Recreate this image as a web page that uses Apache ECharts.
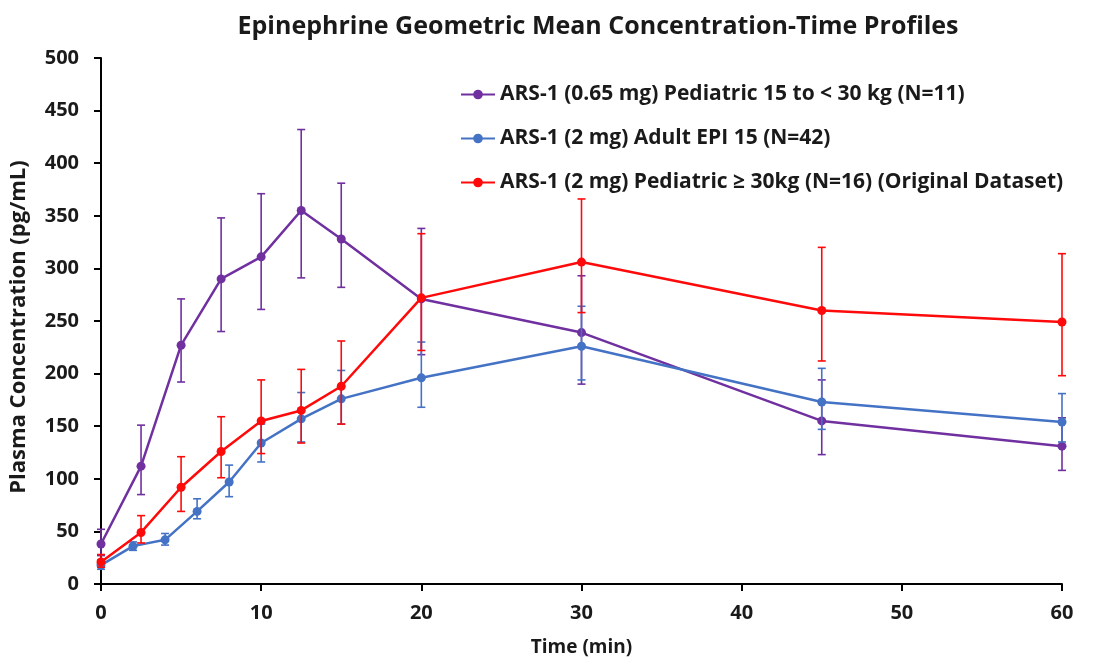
<!DOCTYPE html>
<html><head><meta charset="utf-8">
<script src="https://cdn.jsdelivr.net/npm/echarts@6/dist/echarts.min.js"></script>
<style>html,body{margin:0;padding:0;background:#fff}#c{width:1114px;height:663px}</style>
</head><body><div id="c"></div>
<script>
const title = 'Epinephrine Geometric Mean Concentration-Time Profiles';
const seriesNames = ['ARS-1 (0.65 mg) Pediatric 15 to < 30 kg (N=11)', 'ARS-1 (2 mg) Adult EPI 15 (N=42)', 'ARS-1 (2 mg) Pediatric \u2265 30kg (N=16) (Original Dataset)'];
const colors = ['#7030A0', '#4472C4', '#FF0A0A'];

const purpleTime = [0, 2.5, 5, 7.5, 10, 12.5, 15, 20, 30, 45, 60];
const purpleMean = [38, 112, 227, 290, 311, 355, 328, 271, 239, 155, 131];
const purpleLow  = [27, 85, 192, 240, 261, 291, 282, 218, 190, 123, 108];
const purpleHigh = [52, 151, 271, 348, 371, 432, 381, 338, 293, 194, 158];

const blueTime = [0, 2, 4, 6, 8, 10, 12.5, 15, 20, 30, 45, 60];
const blueMean = [18, 36, 42, 69, 97, 134, 157, 176, 196, 226, 173, 154];
const blueLow  = [14, 32, 37, 62, 83, 116, 135, 152, 168, 194, 147, 135];
const blueHigh = [23, 40, 48, 81, 113, 152, 182, 203, 230, 264, 205, 181];

const redTime = [0, 2.5, 5, 7.5, 10, 12.5, 15, 20, 30, 45, 60];
const redMean = [21, 49, 92, 126, 155, 165, 188, 272, 306, 260, 249];
const redLow  = [16, 39, 69, 101, 124, 134, 152, 222, 258, 212, 198];
const redHigh = [28, 65, 121, 159, 194, 204, 231, 333, 366, 320, 314];

const xTicks = [0, 10, 20, 30, 40, 50, 60];
const yTicks = [0, 50, 100, 150, 200, 250, 300, 350, 400, 450, 500];

const groups = [
  [purpleTime, purpleMean, purpleLow, purpleHigh],
  [blueTime, blueMean, blueLow, blueHigh],
  [redTime, redMean, redLow, redHigh]
];

const font = '"Open Sans", "Liberation Sans", sans-serif';
const series = [];
groups.forEach((g, i) => {
  const [t, m, lo, hi] = g;
  series.push({
    type: 'custom', name: 'err' + i, z: 2 + i * 2,
    data: t.map((x, k) => [x, lo[k], hi[k]]),
    renderItem: function (params, api) {
      const p1 = api.coord([api.value(0), api.value(1)]);
      const p2 = api.coord([api.value(0), api.value(2)]);
      const w = 4;
      const st = { stroke: colors[i], lineWidth: 1.6 };
      return { type: 'group', children: [
        { type: 'line', shape: { x1: p1[0], y1: p1[1], x2: p2[0], y2: p2[1] }, style: st },
        { type: 'line', shape: { x1: p1[0] - w, y1: p1[1], x2: p1[0] + w, y2: p1[1] }, style: st },
        { type: 'line', shape: { x1: p2[0] - w, y1: p2[1], x2: p2[0] + w, y2: p2[1] }, style: st }
      ]};
    },
    silent: true
  });
  series.push({
    type: 'line', name: seriesNames[i], z: 3 + i * 2,
    data: t.map((x, k) => [x, m[k]]),
    symbol: 'circle', symbolSize: 9,
    lineStyle: { color: colors[i], width: 2.5 },
    itemStyle: { color: colors[i] },
    animation: false
  });
});

const chart = echarts.init(document.getElementById('c'), null, { renderer: 'canvas' });
chart.setOption({
  animation: false,
  backgroundColor: '#fff',
  color: colors,
  title: {
    text: title, left: 593, top: 9, textAlign: 'center',
    textStyle: { fontFamily: font, fontWeight: 'bold', fontSize: 25, color: '#1a1a1a' }
  },
  legend: {
    data: seriesNames, orient: 'vertical', left: 455, top: 79,
    itemGap: 23, itemWidth: 34, itemHeight: 12,
    textStyle: { fontFamily: font, fontWeight: 'bold', fontSize: 21, color: '#1a1a1a' }
  },
  grid: { left: 101, right: 52, top: 58, bottom: 79, containLabel: false },
  xAxis: {
    type: 'value', min: 0, max: 60, interval: 10,
    name: 'Time (min)', nameLocation: 'middle', nameGap: 54,
    nameTextStyle: { fontFamily: font, fontWeight: 'bold', fontSize: 19, color: '#1a1a1a' },
    axisLine: { onZero: false, lineStyle: { color: '#000', width: 2 } },
    axisTick: { show: true, length: 7, lineStyle: { color: '#000', width: 2 } },
    axisLabel: { fontFamily: font, fontWeight: 'bold', fontSize: 20, color: '#1a1a1a', margin: 19,
      formatter: v => xTicks.includes(v) ? String(v) : '' },
    splitLine: { show: false }
  },
  yAxis: {
    type: 'value', min: 0, max: 500, interval: 50,
    name: 'Plasma Concentration (pg/mL)', nameLocation: 'middle', nameGap: 71, nameRotate: 90,
    nameTextStyle: { fontFamily: font, fontWeight: 'bold', fontSize: 22, color: '#1a1a1a', padding: [0, 12, 0, 0] },
    axisLine: { show: true, lineStyle: { color: '#000', width: 2 } },
    axisTick: { show: true, length: 7, lineStyle: { color: '#000', width: 2 } },
    axisLabel: { fontFamily: font, fontWeight: 'bold', fontSize: 20, color: '#1a1a1a', margin: 22,
      formatter: v => yTicks.includes(v) ? String(v) : '' },
    splitLine: { show: false }
  },
  series: series
});
</script></body></html>
